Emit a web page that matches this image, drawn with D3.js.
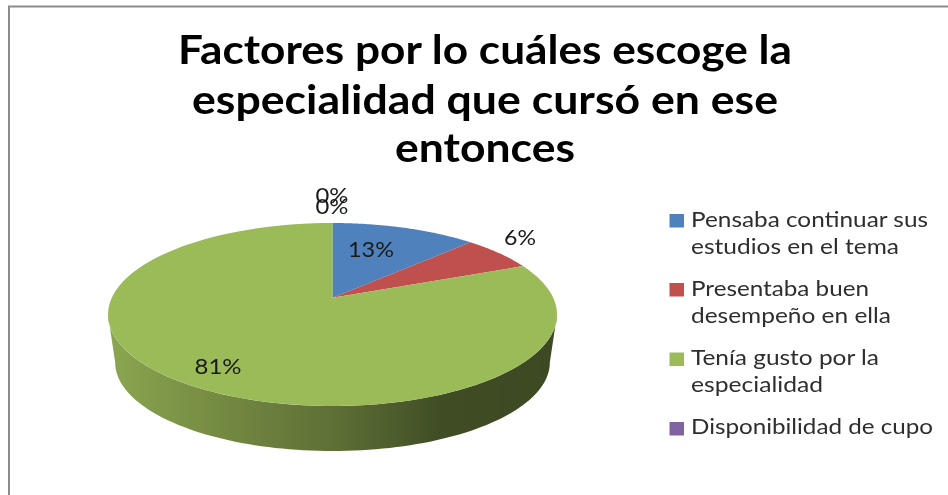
<!DOCTYPE html>
<html><head><meta charset="utf-8">
<script src="https://cdn.jsdelivr.net/npm/d3@7/dist/d3.min.js"></script>
<style>html,body{margin:0;padding:0;background:#fff}svg{display:block;filter:blur(0.45px)}text{font-family:Lato,"Open Sans",sans-serif}</style>
</head><body><svg id="c" width="948" height="495"></svg>
<script>
const titleLines = ["Factores por lo cuáles escoge la","especialidad que cursó en ese","entonces"];
const categories = [["Pensaba continuar sus","estudios en el tema"],["Presentaba buen","desempeño en ella"],["Tenía gusto por la","especialidad"],["Disponibilidad de cupo"]];
const colours = ["#4f81bd","#c0504d","#9bbb59","#8064a2"];
const values = [12.5,6.25,81.25,0,0];
const labels = ["13%","6%","81%","0%","0%"];

const svg = d3.select("#c");
const fit = (sel, w) => sel.attr("textLength", w).attr("lengthAdjust","spacingAndGlyphs");

// frame
svg.append("path").attr("d","M9,495V6.5H948").attr("fill","none").attr("stroke","#8c8c8c").attr("stroke-width",2);

// title
const titleW=[614,586,180], titleY=[64,114,162];
svg.selectAll("text.t").data(titleLines).join("text").attr("class","t")
  .attr("x",485).attr("y",(d,i)=>titleY[i]).attr("text-anchor","middle")
  .attr("font-size",40).attr("font-weight",700).attr("fill","#000").text(d=>d)
  .each(function(d,i){fit(d3.select(this),titleW[i]);});

// perspective projection of the unit disc
const cx=332.5, cy=297.7, A=220.7, B=88.4, k=0.1836;
const proj=(a,s=1,dy=0)=>{const X=Math.sin(a),Y=Math.cos(a),w=1+k*Y;return [cx+s*A*X/w, cy-(B*Y/w)*s+dy];};
const pie=d3.pie().sort(null).startAngle(0).endAngle(2*Math.PI)(values);
const line=d3.line();
const arcPts=(a0,a1,s,dy)=>d3.range(0,101).map(i=>proj(a0+(a1-a0)*i/100,s,dy));

// side wall
const defs=svg.append("defs");
const g=defs.append("linearGradient").attr("id","side").attr("gradientUnits","userSpaceOnUse")
  .attr("x1",108).attr("x2",557).attr("y1",0).attr("y2",0);
[[0,"#8ba650"],[0.25,"#748a42"],[0.5,"#5e7036"],[0.75,"#3f4c24"],[1,"#3d4922"]].forEach(s=>g.append("stop").attr("offset",s[0]).attr("stop-color",s[1]));
const rim0=Math.PI/2+0.185, rim1=3*Math.PI/2-0.185;
const wall=arcPts(rim0,rim1,1,0).concat(arcPts(rim1,rim0,0.968,48.5));
svg.append("path").attr("d",line(wall)+"Z").attr("fill","url(#side)");

// top face
svg.selectAll("path.s").data(pie).join("path").attr("class","s")
  .attr("d",d=>d.endAngle-d.startAngle<1e-6?null:line([[cx,cy]].concat(arcPts(d.startAngle,d.endAngle,1,0)))+"Z")
  .attr("fill",(d,i)=>colours[i]);

// data labels
const labX=[371,520,218,332,332], labY=[257,245,374,203,214], labW=[46,32,47,33,33];
svg.selectAll("text.l").data(labels).join("text").attr("class","l")
  .attr("x",(d,i)=>labX[i]).attr("y",(d,i)=>labY[i]).attr("text-anchor","middle")
  .attr("font-size",22).attr("fill","#1a1a1a").text(d=>d)
  .each(function(d,i){fit(d3.select(this),labW[i]);});

// legend
const swY=[214,283,352.5,422], legY=[[227,253.5],[296,323],[365,391.5],[434]], legW=[[237,208],[178,200],[188,132],[242]];
categories.forEach((c,i)=>{
  svg.append("rect").attr("x",669.5).attr("y",swY[i]).attr("width",14.5).attr("height",13.5).attr("fill",colours[i]);
  c.forEach((t,j)=>{
    svg.append("text").attr("x",691).attr("y",legY[i][j]).attr("font-size",21).attr("fill","#2e2e2e").text(t)
      .call(fit,legW[i][j]);
  });
});
</script></body></html>
